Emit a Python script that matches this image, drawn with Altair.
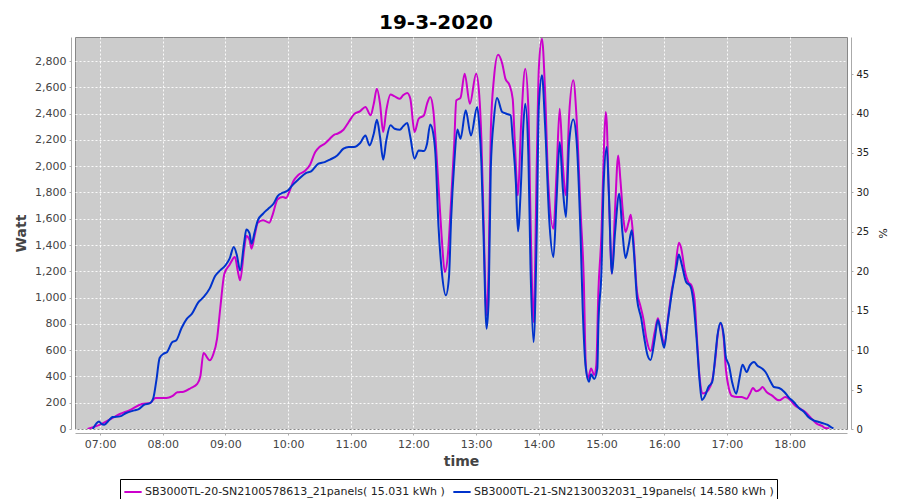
import altair as alt
import pandas as pd

TITLE = "19-3-2020"
S1 = "SB3000TL-20-SN2100578613_21panels( 15.031 kWh )"
S2 = "SB3000TL-21-SN2130032031_19panels( 14.580 kWh )"

mag_t = ["06:48","07:00","07:12","07:19","07:28","07:40","07:48","07:53","08:01","08:06","08:09","08:14","08:20","08:27","08:33","08:36","08:39","08:45","08:48","08:52","08:55","08:59","09:04","09:09","09:12","09:14","09:18","09:20","09:23","09:25","09:28","09:31","09:36","09:42","09:45","09:50","09:55","09:58","10:01","10:05","10:10","10:16","10:21","10:26","10:30","10:35","10:40","10:44","10:47","10:53","10:58","11:03","11:09","11:14","11:19","11:22","11:25","11:28","11:31","11:34","11:38","11:42","11:47","11:50","11:54","11:57","12:01","12:05","12:10","12:13","12:16","12:19","12:21","12:24","12:27","12:30","12:33","12:35","12:39","12:41","12:45","12:49","12:54","13:00","13:03","13:05","13:07","13:10","13:12","13:14","13:17","13:21","13:25","13:28","13:32","13:35","13:37","13:40","13:43","13:47","13:50","13:52","13:55","13:58","14:00","14:03","14:06","14:09","14:14","14:17","14:20","14:23","14:26","14:29","14:33","14:36","14:40","14:43","14:45","14:47","14:50","14:53","14:55","14:57","15:00","15:02","15:04","15:05","15:07","15:10","15:13","15:16","15:18","15:21","15:23","15:26","15:28","15:30","15:34","15:37","15:40","15:43","15:47","15:51","15:54","15:57","16:00","16:04","16:07","16:10","16:14","16:16","16:20","16:23","16:26","16:29","16:31","16:34","16:37","16:40","16:42","16:46","16:49","16:51","16:54","16:57","16:59","17:02","17:05","17:10","17:14","17:19","17:22","17:25","17:28","17:32","17:34","17:38","17:43","17:50","17:56","18:01","18:05","18:10","18:15","18:21","18:26","18:31","18:34","18:38"]
mag_w = [0,33,84,114,142,190,198,236,236,240,250,279,284,312,343,401,578,523,561,687,915,1182,1250,1309,1195,1131,1372,1468,1440,1372,1474,1570,1588,1570,1626,1748,1765,1758,1803,1885,1935,1963,2011,2108,2146,2171,2209,2239,2247,2277,2336,2394,2419,2450,2387,2475,2589,2475,2260,2425,2546,2531,2513,2539,2557,2513,2260,2361,2387,2475,2526,2425,2222,1841,1461,1195,1334,1588,2171,2501,2520,2704,2475,2704,2539,2209,1626,865,1245,2260,2666,2848,2780,2666,2615,2513,2184,1778,2311,2742,2437,1626,814,2006,2742,2970,2564,1879,1524,1956,2437,2006,1778,2387,2653,2387,1650,1146,487,385,461,411,487,1044,1499,2057,2412,2336,1803,1183,1677,2082,1905,1601,1499,1575,1631,1499,1044,943,842,689,593,740,842,740,651,867,1044,1170,1418,1385,1195,1119,1094,992,740,385,271,280,294,370,535,700,801,687,459,307,251,243,243,230,269,312,287,302,320,282,256,218,243,218,180,155,129,79,41,23,8,5]

blue_t = ["06:53","06:59","07:01","07:04","07:09","07:12","07:19","07:25","07:33","07:37","07:42","07:48","07:51","07:54","07:57","08:01","08:04","08:09","08:13","08:18","08:23","08:28","08:34","08:39","08:45","08:50","08:55","09:00","09:04","09:08","09:11","09:14","09:18","09:20","09:23","09:25","09:28","09:31","09:36","09:41","09:46","09:50","09:55","10:00","10:04","10:10","10:17","10:22","10:29","10:35","10:40","10:47","10:53","10:58","11:03","11:09","11:14","11:18","11:22","11:25","11:28","11:31","11:34","11:38","11:42","11:47","11:50","11:54","11:57","12:01","12:05","12:10","12:13","12:16","12:19","12:21","12:24","12:27","12:31","12:34","12:36","12:39","12:42","12:45","12:50","12:55","13:01","13:03","13:05","13:07","13:10","13:12","13:14","13:17","13:20","13:25","13:29","13:33","13:35","13:38","13:40","13:43","13:45","13:47","13:50","13:52","13:55","13:58","14:00","14:03","14:06","14:10","14:14","14:17","14:20","14:23","14:26","14:29","14:33","14:36","14:40","14:42","14:45","14:48","14:50","14:53","14:56","14:57","15:00","15:02","15:05","15:07","15:10","15:13","15:17","15:20","15:23","15:26","15:29","15:31","15:34","15:38","15:41","15:44","15:47","15:51","15:54","15:57","16:00","16:03","16:08","16:12","16:14","16:17","16:21","16:25","16:28","16:31","16:34","16:36","16:40","16:42","16:46","16:49","16:51","16:54","16:57","16:59","17:02","17:05","17:09","17:12","17:15","17:19","17:22","17:26","17:29","17:34","17:37","17:42","17:45","17:50","17:55","17:59","18:04","18:09","18:14","18:18","18:23","18:28","18:33","18:36","18:40","18:42"]
blue_w = [0,58,41,33,71,91,96,122,142,152,183,198,236,376,540,574,584,660,675,769,838,878,964,1003,1070,1162,1207,1245,1296,1385,1321,1207,1423,1519,1490,1410,1499,1588,1638,1676,1714,1773,1798,1816,1854,1900,1948,1961,2019,2031,2050,2082,2133,2146,2146,2176,2234,2158,2247,2353,2222,2049,2196,2311,2285,2277,2303,2328,2222,2057,2120,2115,2171,2318,2247,2095,1537,1207,1017,1157,1588,2019,2280,2209,2425,2234,2450,2311,2026,1499,763,991,1981,2361,2518,2412,2399,2387,2209,1879,1504,1879,2285,2475,2082,1245,662,1499,2450,2691,2311,1588,1309,1753,2184,1829,1613,2184,2356,2209,1461,918,461,360,416,380,461,791,1209,1854,2146,1803,1183,1499,1791,1499,1301,1398,1512,1347,992,842,689,563,525,689,829,715,619,791,1070,1246,1327,1246,1119,1088,966,689,360,221,270,315,358,560,712,809,712,548,484,358,269,383,489,434,484,510,484,459,434,358,320,312,282,243,205,160,129,91,66,53,41,33,13,5]

hours = ["07:00","08:00","09:00","10:00","11:00","12:00","13:00","14:00","15:00","16:00","17:00","18:00"]
pct_domain = [0, 49.7]
watt_domain = [0, 2983]

def ts(hm):
    return "2020-03-19T" + hm + ":00Z"

df = pd.concat([
    pd.DataFrame({"time": [ts(t) for t in mag_t], "watt": mag_w, "series": S1}),
    pd.DataFrame({"time": [ts(t) for t in blue_t], "watt": blue_w, "series": S2}),
], ignore_index=True)

def dt(h, m):
    return alt.DateTime(year=2020, month=3, date=19, hours=h, minutes=m, utc=True)

xscale = alt.Scale(type="utc", domain=[dt(6, 36), dt(18, 55)])
tick_vals = [dt(int(h[:2]), 0) for h in hours]

FONT = "DejaVu Sans"
GRAY = "#444444"

lines = alt.Chart(df).mark_line(strokeWidth=2, interpolate="monotone", clip=True).encode(
    x=alt.X("time:T", scale=xscale,
            axis=alt.Axis(values=tick_vals, format="%H:%M", title="time", offset=4,
                          grid=True, gridColor="white", gridDash=[2, 2], gridOpacity=0.9,
                          tickSize=2, labelPadding=3, labelFont=FONT, labelFontSize=11,
                          labelColor=GRAY, domainColor="#aaaaaa", tickColor="#aaaaaa",
                          titleFont=FONT, titleFontSize=14, titleFontWeight="bold",
                          titleColor=GRAY, titlePadding=5)),
    y=alt.Y("watt:Q", scale=alt.Scale(domain=watt_domain, nice=False, zero=True),
            axis=alt.Axis(values=list(range(0, 2801, 200)), format=",.0f", title="Watt", offset=4,
                          grid=True, gridColor="white", gridDash=[2, 2], gridOpacity=0.9,
                          tickSize=2, labelPadding=3, labelFont=FONT, labelFontSize=11,
                          labelColor=GRAY, domainColor="#aaaaaa", tickColor="#aaaaaa",
                          titleFont=FONT, titleFontSize=14, titleFontWeight="bold",
                          titleColor=GRAY, titlePadding=6)),
    color=alt.Color("series:N", scale=alt.Scale(domain=[S1, S2], range=["#CC00CC", "#0033CC"]),
                    legend=alt.Legend(title=None, orient="none", legendX=45, legendY=442,
                                      direction="horizontal", symbolType="stroke",
                                      symbolStrokeWidth=2, symbolSize=300,
                                      labelFont=FONT, labelFontSize=11, labelColor="#222222",
                                      labelLimit=500, strokeColor="black", fillColor="white",
                                      padding=3, columnPadding=4, symbolOffset=0,
                                      labelOffset=2)),
)

pct_df = pd.DataFrame({"pct": pct_domain})
right = alt.Chart(pct_df).mark_point(opacity=0).encode(
    y=alt.Y("pct:Q", scale=alt.Scale(domain=pct_domain, nice=False),
            axis=alt.Axis(orient="right", values=list(range(0, 46, 5)), title="%", offset=4,
                          grid=False, tickSize=2, labelPadding=3, labelFont=FONT,
                          labelFontSize=10, labelColor="#222222", domainColor="#aaaaaa",
                          tickColor="#aaaaaa", titleFont=FONT, titleFontSize=11,
                          titleFontWeight="normal", titleColor="#222222", titlePadding=8)),
)

chart = alt.layer(lines, right).resolve_scale(y="independent").properties(
    width=772, height=392,
    title=alt.TitleParams(TITLE, font=FONT, fontSize=20, fontWeight="bold", color="black",
                          anchor="middle", frame="group", dx=-25, offset=1),
    autosize=alt.AutoSizeParams(type="none"),
    padding={"left": 67, "top": 29, "right": 45, "bottom": 70},
    background="white",
).configure_view(fill="#CCCCCC", stroke="#888888", strokeWidth=1)

chart.save("out.html", embed_options={"renderer": "svg", "actions": False})
